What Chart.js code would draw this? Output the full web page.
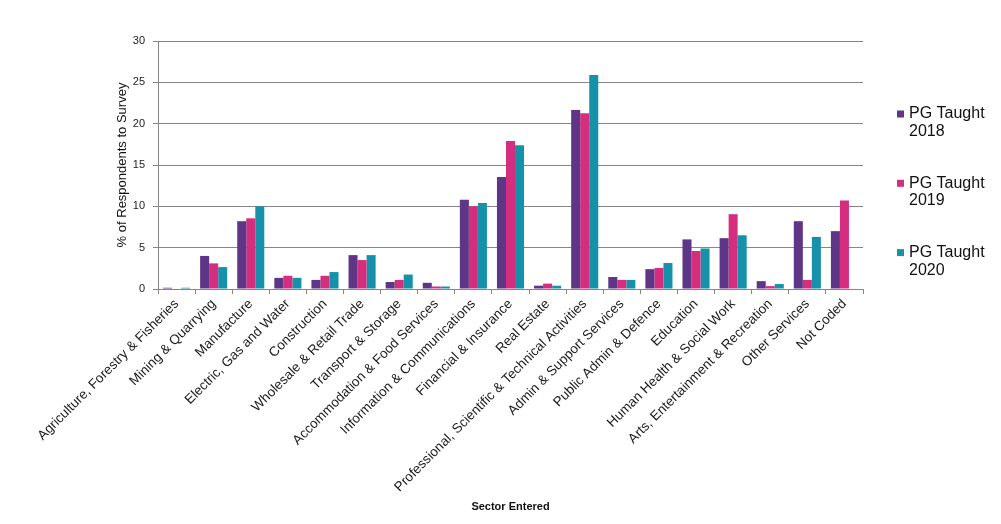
<!DOCTYPE html>
<html>
<head>
<meta charset="utf-8">
<script src="https://cdn.jsdelivr.net/npm/chart.js@4/dist/chart.umd.min.js"></script>
<style>
  html, body { margin: 0; padding: 0; background: #fff; }
  #wrap { width: 1001px; height: 524px; position: relative; }
</style>
</head>
<body>
<div id="wrap"><canvas id="c" width="1001" height="524"></canvas></div>
<script>
const categories = [
  "Agriculture, Forestry & Fisheries",
  "Mining & Quarrying",
  "Manufacture",
  "Electric, Gas and Water",
  "Construction",
  "Wholesale & Retail Trade",
  "Transport & Storage",
  "Accommodation & Food Services",
  "Information & Communications",
  "Financial & Insurance",
  "Real Estate",
  "Professional, Scientific & Technical Activities",
  "Admin & Support Services",
  "Public Admin & Defence",
  "Education",
  "Human Health & Social Work",
  "Arts, Entertainment & Recreation",
  "Other Services",
  "Not Coded"
];
const seriesNames = ["PG Taught 2018", "PG Taught 2019", "PG Taught 2020"];
const pg2018 = [0.15, 4.0, 8.2, 1.35, 1.1, 4.1, 0.85, 0.75, 10.8, 13.55, 0.4, 21.65, 1.45, 2.4, 6.0, 6.15, 0.95, 8.2, 7.0];
const pg2019 = [0, 3.1, 8.55, 1.6, 1.6, 3.5, 1.1, 0.3, 10.0, 17.9, 0.65, 21.25, 1.1, 2.55, 4.6, 9.05, 0.35, 1.1, 10.7];
const pg2020 = [0.15, 2.65, 10.0, 1.35, 2.05, 4.1, 1.75, 0.3, 10.4, 17.4, 0.4, 25.9, 1.1, 3.15, 4.9, 6.5, 0.6, 6.3, 0];
const yTitle = "% of Respondents to Survey";
const xTitle = "Sector Entered";

const colors = ["#5E3587", "#D62E7E", "#1592A9"];
const seriesData = [pg2018, pg2019, pg2020];

const legendPlugin = {
  id: 'customLegend',
  afterDraw(chart) {
    const ctx = chart.ctx;
    ctx.save();
    ctx.font = "16px 'Liberation Sans', Arial, sans-serif";
    ctx.textBaseline = 'middle';
    ctx.textAlign = 'left';
    chart.data.datasets.forEach((ds, i) => {
      const y0 = 114 + i * 69.3;
      ctx.fillStyle = ds.backgroundColor;
      ctx.fillRect(897, y0 - 3.5, 7, 7);
      ctx.fillStyle = '#111';
      const idx = ds.label.lastIndexOf(' ');
      ctx.fillText(ds.label.slice(0, idx), 909, y0);
      ctx.fillText(ds.label.slice(idx + 1), 909, y0 + 17.5);
    });
    ctx.restore();
  }
};

new Chart(document.getElementById('c'), {
  type: 'bar',
  data: {
    labels: categories,
    datasets: seriesNames.map((n, i) => ({
      label: n,
      data: seriesData[i],
      backgroundColor: colors[i],
      borderWidth: 0,
      categoryPercentage: 0.73,
      barPercentage: 1.0
    }))
  },
  options: {
    responsive: false,
    animation: false,
    devicePixelRatio: 1,
    layout: { padding: { left: 111, right: 138, top: 41, bottom: 0 } },
    plugins: {
      legend: { display: false },
      tooltip: { enabled: false },
      title: { display: false }
    },
    scales: {
      x: {
        grid: {
          offset: true,
          drawOnChartArea: false,
          drawTicks: true,
          tickLength: 5,
          color: '#868686'
        },
        border: { color: '#868686', width: 1 },
        ticks: {
          autoSkip: false,
          minRotation: 45,
          maxRotation: 45,
          padding: 2,
          color: '#1a1a1a',
          font: { family: "'Liberation Sans', Arial, sans-serif", size: 13.5 }
        },
        title: {
          display: true,
          text: xTitle,
          color: '#111',
          padding: { top: 0, bottom: 10 },
          font: { family: "'Liberation Sans', Arial, sans-serif", size: 11, weight: 'bold' }
        },
        afterFit(scale) { scale.height = 235; }
      },
      y: {
        min: 0,
        max: 30,
        ticks: {
          stepSize: 5,
          padding: 8,
          color: '#222',
          font: { family: "'Liberation Sans', Arial, sans-serif", size: 11 }
        },
        grid: {
          color: '#868686',
          lineWidth: 1,
          tickLength: 5
        },
        border: { color: '#868686', width: 1 },
        title: {
          display: true,
          text: yTitle,
          color: '#111',
          padding: { top: 4, bottom: 0 },
          font: { family: "'Liberation Sans', Arial, sans-serif", size: 13 }
        },
        afterFit(scale) { scale.width = 47; }
      }
    }
  },
  plugins: [legendPlugin]
});
</script>
</body>
</html>
